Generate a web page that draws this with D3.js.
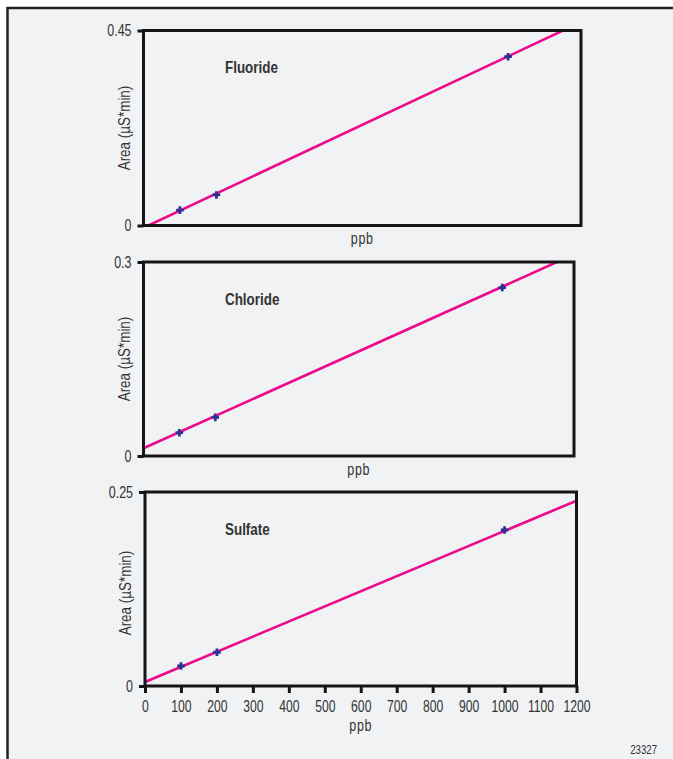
<!DOCTYPE html>
<html>
<head>
<meta charset="utf-8">
<script src="https://cdn.jsdelivr.net/npm/d3@7"></script>
<style>
  html, body { margin: 0; padding: 0; background: #ffffff; }
  svg { display: block; }
  text { font-family: 'Liberation Sans', Arial, sans-serif; fill: #333; }
</style>
</head>
<body>
<script>
// Calibration standards (ppb) and measured peak areas (µS*min)
const concentrations = [100, 200, 1000];
const analytes = ["Fluoride", "Chloride", "Sulfate"];
const fluorideArea = [0.0355, 0.0705, 0.3895];
const chlorideArea = [0.036, 0.0598, 0.2605];
const sulfateArea = [0.0258, 0.0435, 0.201];

// Calibration lines: area at each end of the concentration range
const fitRange = [0, 1200];
const fluorideFit = [-0.0052, 0.4695];
const chlorideFit = [0.0119, 0.3118];
const sulfateFit = [0.0052, 0.2388];

// Axis ticks
const xDomain = [0, 1200];
const xTicks = [0, 100, 200, 300, 400, 500, 600, 700, 800, 900, 1000, 1100, 1200];
const fluorideYTicks = [0, 0.45];
const chlorideYTicks = [0, 0.3];
const sulfateYTicks = [0, 0.25];
const xLabel = "ppb";
const yLabel = "Area (µS*min)";
const figureId = "23327";

const W = 673, H = 759;
const NARROW = 0.78; // horizontal squeeze giving a condensed face

// squeeze text horizontally while keeping its anchor point in place
function condense(sel, sx) {
  sel.each(function () {
    const t = d3.select(this);
    const x0 = +(t.attr("x") || 0);
    t.attr("x", x0 / sx).attr("transform", `scale(${sx},1)`);
  });
}

const svg = d3.select("body").append("svg").attr("width", W).attr("height", H);

// page panel with dark top/left rule
svg.append("rect").attr("x", 7).attr("y", 7).attr("width", W).attr("height", H).attr("fill", "#f1f2f4");
svg.append("path").attr("d", `M7.5,${H} V8 H${W}`).attr("fill", "none").attr("stroke", "#222").attr("stroke-width", 2.5);

const panels = [
  { name: analytes[0], area: fluorideArea, fit: fluorideFit, yTicks: fluorideYTicks,
    box: { l: 143.5, r: 581, t: 30.5, b: 225.5 }, xTickLabels: false, ppbOffset: 19, labelDy: 0 },
  { name: analytes[1], area: chlorideArea, fit: chlorideFit, yTicks: chlorideYTicks,
    box: { l: 143.5, r: 574, t: 262, b: 456 }, xTickLabels: false, ppbOffset: 19, labelDy: 0 },
  { name: analytes[2], area: sulfateArea, fit: sulfateFit, yTicks: sulfateYTicks,
    box: { l: 145, r: 576.5, t: 492, b: 686 }, xTickLabels: true, ppbOffset: 45, labelDy: 4 }
];

panels.forEach((p, i) => {
  const b = p.box;
  const x = d3.scaleLinear().domain(xDomain).range([b.l, b.r]);
  const y = d3.scaleLinear().domain([0, d3.max(p.yTicks)]).range([b.b, b.t]);
  const g = svg.append("g");

  const clipId = "clip" + i;
  svg.append("clipPath").attr("id", clipId)
    .append("rect").attr("x", b.l).attr("y", b.t).attr("width", b.r - b.l).attr("height", b.b - b.t);

  // calibration line
  const fitPts = fitRange.map((c, k) => [c, p.fit[k]]);
  g.append("path")
    .datum(fitPts)
    .attr("clip-path", `url(#${clipId})`)
    .attr("d", d3.line().x(d => x(d[0])).y(d => y(d[1])))
    .attr("fill", "none").attr("stroke", "#ec0a8c").attr("stroke-width", 2.6);

  // standards
  g.selectAll(".pt").data(concentrations.map((c, k) => [c, p.area[k]]))
    .enter().append("path")
    .attr("d", d => {
      const cx = x(d[0]), cy = y(d[1]), s = 3.8;
      return `M${cx - s},${cy} H${cx + s} M${cx},${cy - s} V${cy + s}`;
    })
    .attr("stroke", "#2e3192").attr("stroke-width", 2.8).attr("fill", "none");

  // frame
  g.append("rect").attr("x", b.l).attr("y", b.t).attr("width", b.r - b.l).attr("height", b.b - b.t)
    .attr("fill", "none").attr("stroke", "#151515").attr("stroke-width", 3);

  // y axis
  const yAxis = d3.axisLeft(y).tickValues(p.yTicks).tickSize(6).tickPadding(6)
    .tickFormat(d => d === 0 ? "0" : String(d));
  const ya = g.append("g").attr("transform", `translate(${b.l},0)`).call(yAxis);
  ya.select(".domain").remove();
  ya.selectAll(".tick line").attr("stroke", "#151515").attr("stroke-width", 3);
  ya.selectAll(".tick text").attr("font-size", 16).attr("fill", "#333").attr("font-family", null)
    .call(condense, NARROW);

  // x axis
  if (p.xTickLabels) {
    const xAxis = d3.axisBottom(x).tickValues(xTicks).tickSize(7).tickPadding(8).tickFormat(d3.format("d"));
    const xa = g.append("g").attr("transform", `translate(0,${b.b})`).call(xAxis);
    xa.select(".domain").remove();
    xa.selectAll(".tick line").attr("stroke", "#151515").attr("stroke-width", 3);
    xa.selectAll(".tick text").attr("font-size", 16).attr("fill", "#333").attr("font-family", null)
      .call(condense, 0.76);
  }

  // axis titles
  g.append("text").attr("x", (b.l + b.r) / 2).attr("y", b.b + p.ppbOffset)
    .attr("text-anchor", "middle").attr("font-size", 16).attr("letter-spacing", 1).text(xLabel)
    .call(condense, 0.78);
  g.append("text")
    .attr("transform", `translate(${b.l - 14},${(b.t + b.b) / 2 + p.labelDy}) rotate(-90) scale(0.84,1)`)
    .attr("text-anchor", "middle").attr("font-size", 16).text(yLabel);

  // analyte name
  g.append("text").attr("x", 225).attr("y", b.t + 43)
    .attr("font-size", 17).attr("font-weight", "bold").attr("fill", "#111").text(p.name)
    .call(condense, 0.79);
});

svg.append("text").attr("x", 657).attr("y", 754).attr("text-anchor", "end")
  .attr("font-size", 12.5).attr("fill", "#333").text(figureId)
  .call(condense, 0.77);
</script>
</body>
</html>
